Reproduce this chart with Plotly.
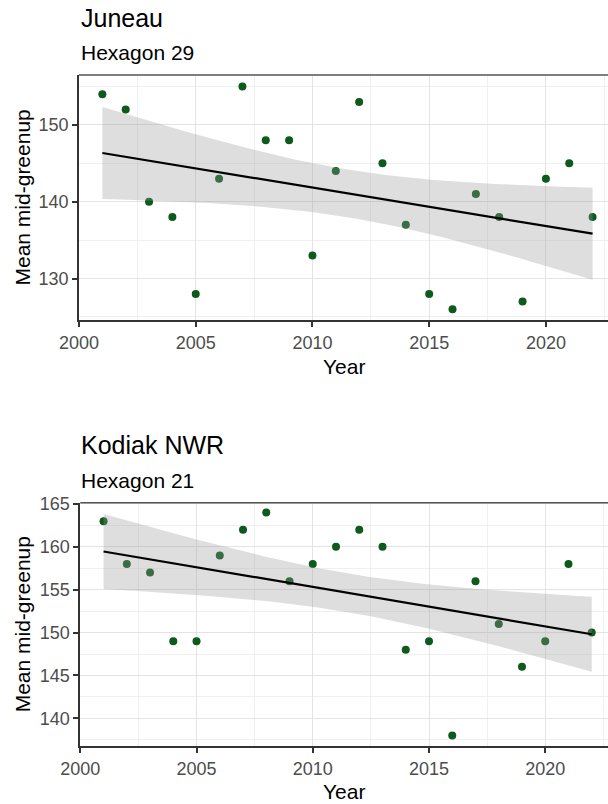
import numpy as np
import plotly.graph_objects as go

# ---- data ----
years = [2001, 2002, 2003, 2004, 2005, 2006, 2007, 2008, 2009, 2010, 2011,
         2012, 2013, 2014, 2015, 2016, 2017, 2018, 2019, 2020, 2021, 2022]
juneau_greenup = [154, 152, 140, 138, 128, 143, 155, 148, 148, 133, 144,
                  153, 145, 137, 128, 126, 141, 138, 127, 143, 145, 138]
kodiak_greenup = [163, 158, 157, 149, 149, 159, 162, 164, 156, 158, 160,
                  162, 160, 148, 149, 138, 156, 151, 146, 149, 158, 150]

titles = ["Juneau", "Kodiak NWR"]
subtitles = ["Hexagon 29", "Hexagon 21"]
x_label = "Year"
y_label = "Mean mid-greenup"
x_ticks = [2000, 2005, 2010, 2015, 2020]
y_ticks_top = [130, 140, 150]
y_ticks_bottom = [140, 145, 150, 155, 160, 165]

T_QUANT = 1.725  # t(0.95, df=20) -> 90% confidence band

W, H = 608, 804
POINT_COLOR = "#0d5a1c"
FONT = "Liberation Sans, Arial, sans-serif"


def lm_fit(x, y, n=80):
    x = np.asarray(x, float)
    y = np.asarray(y, float)
    b, a = np.polyfit(x, y, 1)
    resid = y - (a + b * x)
    df = len(x) - 2
    s = np.sqrt(np.sum(resid ** 2) / df)
    xbar = x.mean()
    sxx = np.sum((x - xbar) ** 2)
    xs = np.linspace(x.min(), x.max(), n)
    fit = a + b * xs
    se = s * np.sqrt(1.0 / len(x) + (xs - xbar) ** 2 / sxx)
    return xs, fit, fit - T_QUANT * se, fit + T_QUANT * se


def py(px):
    return 1 - px / H


def pxx(px):
    return px / W


fig = go.Figure()

panels = [
    dict(data=juneau_greenup, xa="x", ya="y", top=75, bottom=320, left=79,
         yr=[124.6, 156.5], xr=[2000, 2022.66], yticks=y_ticks_top, ydt=10,
         t_y=17.5, s_y=52.5, xt_y=366),
    dict(data=kodiak_greenup, xa="x2", ya="y2", top=502.7, bottom=746, left=80.3,
         yr=[136.77, 165.15], xr=[2000, 2022.7], yticks=y_ticks_bottom, ydt=5,
         t_y=445.3, s_y=480.7, xt_y=791.7),
]

annotations = []
shapes = []
for i, p in enumerate(panels):
    xs, fit, lo, hi = lm_fit(years, p["data"])
    fig.add_trace(go.Scatter(x=years, y=p["data"], mode="markers",
                             marker=dict(color=POINT_COLOR, size=8),
                             xaxis=p["xa"], yaxis=p["ya"], showlegend=False,
                             hoverinfo="x+y"))
    fig.add_trace(go.Scatter(x=np.concatenate([xs, xs[::-1]]),
                             y=np.concatenate([hi, lo[::-1]]),
                             fill="toself", fillcolor="rgba(153,153,153,0.32)",
                             line=dict(width=0), mode="lines",
                             xaxis=p["xa"], yaxis=p["ya"], showlegend=False,
                             hoverinfo="skip"))
    fig.add_trace(go.Scatter(x=xs, y=fit, mode="lines",
                             line=dict(color="black", width=2.2),
                             xaxis=p["xa"], yaxis=p["ya"], showlegend=False,
                             hoverinfo="skip"))

    suffix = "" if i == 0 else "2"
    xdom = [pxx(p["left"]), 1.0]
    ydom = [py(p["bottom"]), py(p["top"])]
    common = dict(showline=True, linecolor="#333333", linewidth=1.8,
                  ticks="outside", ticklen=5, tickcolor="#333333", tickwidth=1.5,
                  tickfont=dict(size=18, color="#4d4d4d", family=FONT),
                  showgrid=True, gridcolor="#e3e3e3", gridwidth=1,
                  zeroline=False, automargin=False)
    fig.layout["xaxis" + suffix] = dict(
        domain=xdom, range=p["xr"], anchor="y" + suffix,
        tickmode="array", tickvals=x_ticks, ticktext=[str(t) for t in x_ticks],
        minor=dict(dtick=2.5, tick0=2000, showgrid=True, gridcolor="#f0f0f0",
                   gridwidth=1),
        **common)
    fig.layout["yaxis" + suffix] = dict(
        domain=ydom, range=p["yr"], anchor="x" + suffix,
        tickmode="array", tickvals=p["yticks"],
        ticktext=[str(t) for t in p["yticks"]],
        minor=dict(dtick=p["ydt"] / 2, tick0=0, showgrid=True,
                   gridcolor="#f0f0f0", gridwidth=1),
        **common)

    # top border
    shapes.append(dict(type="line", xref="paper", yref="paper",
                       x0=xdom[0], x1=1.0, y0=ydom[1], y1=ydom[1],
                       line=dict(color="#555555", width=1.5)))

    annotations.append(dict(text=titles[i], x=pxx(79), y=py(p["t_y"]),
                            xref="paper", yref="paper", xanchor="left",
                            yanchor="middle", showarrow=False,
                            font=dict(size=25, color="black", family=FONT)))
    annotations.append(dict(text=subtitles[i], x=pxx(79), y=py(p["s_y"]),
                            xref="paper", yref="paper", xanchor="left",
                            yanchor="middle", showarrow=False,
                            font=dict(size=21, color="black", family=FONT)))
    annotations.append(dict(text=x_label, x=pxx((p["left"] + W) / 2), y=py(p["xt_y"]),
                            xref="paper", yref="paper", xanchor="center",
                            yanchor="middle", showarrow=False,
                            font=dict(size=21, color="black", family=FONT)))
    annotations.append(dict(text=y_label, x=pxx(22),
                            y=py((p["top"] + p["bottom"]) / 2),
                            xref="paper", yref="paper", xanchor="center",
                            yanchor="middle", showarrow=False, textangle=-90,
                            font=dict(size=21, color="black", family=FONT)))

fig.update_layout(width=W, height=H, margin=dict(l=0, r=0, t=0, b=0, pad=0,
                                                 autoexpand=False),
                  paper_bgcolor="white", plot_bgcolor="white",
                  annotations=annotations, shapes=shapes,
                  font=dict(family=FONT), showlegend=False)

fig.write_html("out.html")
